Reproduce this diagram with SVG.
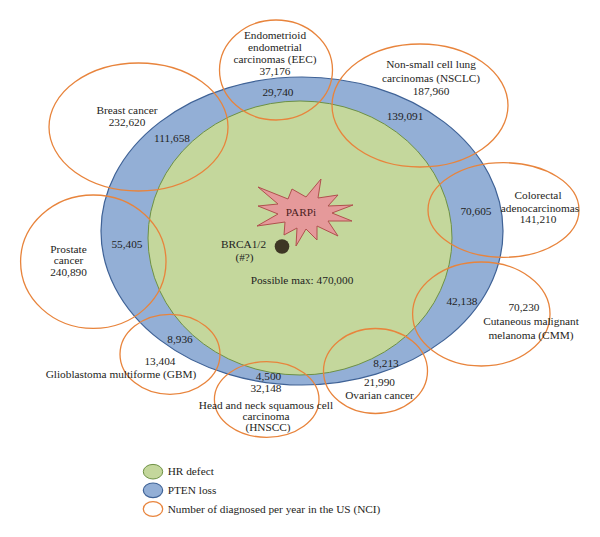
<svg xmlns="http://www.w3.org/2000/svg" width="600" height="537" viewBox="0 0 600 537">
<style>
text{font-family:"Liberation Serif","Times New Roman",serif;font-size:11.3px;fill:#1e1e22;text-anchor:middle}
.l{text-anchor:start}
.nci{fill:none;stroke:#E8843C;stroke-width:1.3}
.pten{fill:#93AFD6;stroke:#3F6296;stroke-width:1.2}
.hr{fill:#C4D79C;stroke:#6E9144;stroke-width:1}
</style>
<rect width="600" height="537" fill="#ffffff"/>
<g id="pten-loss"><ellipse class="pten" cx="302" cy="231" rx="201" ry="154"/></g>
<g id="hr-defect"><ellipse class="hr" cx="300" cy="238" rx="152" ry="137"/></g>
<g id="parpi">
<polygon fill="#E5999A" stroke="#B0504E" stroke-width="1" points="258,187 288,199 292,189 306,197 321,179 318,198 338,195 328,206 353,205 332,213 352,221 328,221 338,236 317,226 317,240 306,229 296,246 297,228 284,235 285,222 257,226 278,214 258,206 278,204"/>
<text x="301" y="215.5" style="fill:#4a1e1e">PARPi</text>
</g>
<g id="brca">
<circle cx="282" cy="246.5" r="7.3" fill="#3E3624"/>
<text x="243.5" y="247.5">BRCA1/2</text>
<text x="244.5" y="260.5">(#?)</text>
</g>
<g id="possible-max"><text x="302" y="284">Possible max: 470,000</text></g>
<g id="breast">
<ellipse class="nci" cx="138.5" cy="127" rx="89.5" ry="64"/>
<text x="127" y="114">Breast cancer</text>
<text x="127" y="125.5">232,620</text>
<text x="172" y="141.5">111,658</text>
</g>
<g id="eec">
<ellipse class="nci" cx="276" cy="70" rx="56.5" ry="50"/>
<text x="275" y="38.5">Endometrioid</text>
<text x="275" y="50.5">endometrial</text>
<text x="275" y="62.5">carcinomas (EEC)</text>
<text x="275" y="74.5">37,176</text>
<text x="278" y="95.5">29,740</text>
</g>
<g id="nsclc">
<ellipse class="nci" cx="420" cy="105.5" rx="88" ry="61.5"/>
<text x="431" y="68">Non-small cell lung</text>
<text x="431" y="82">carcinomas (NSCLC)</text>
<text x="431" y="95">187,960</text>
<text x="405" y="120">139,091</text>
</g>
<g id="colorectal">
<ellipse class="nci" cx="503.5" cy="210" rx="75.5" ry="47.3"/>
<text x="538" y="199">Colorectal</text>
<text x="540" y="211.5">adenocarcinomas</text>
<text x="538" y="223">141,210</text>
<text x="476" y="215">70,605</text>
</g>
<g id="cmm">
<ellipse class="nci" cx="481.3" cy="314" rx="68.7" ry="52"/>
<text x="524" y="310.5">70,230</text>
<text x="531" y="325">Cutaneous malignant</text>
<text x="531" y="339">melanoma (CMM)</text>
<text x="462" y="304.5">42,138</text>
</g>
<g id="ovarian">
<ellipse class="nci" cx="375.5" cy="371" rx="52" ry="42.5"/>
<text x="386" y="366.5">8,213</text>
<text x="379.5" y="385.5">21,990</text>
<text x="379.5" y="399">Ovarian cancer</text>
</g>
<g id="hnscc">
<ellipse class="nci" cx="266.7" cy="399.5" rx="52.3" ry="37.8"/>
<text x="268.5" y="380">4,500</text>
<text x="266" y="391.5">32,148</text>
<text x="266" y="408.5">Head and neck squamous cell</text>
<text x="266" y="419.5">carcinoma</text>
<text x="268" y="431">(HNSCC)</text>
</g>
<g id="gbm">
<ellipse class="nci" cx="170" cy="354.3" rx="50" ry="40"/>
<text x="180" y="343">8,936</text>
<text x="160" y="365">13,404</text>
<text x="121" y="378">Glioblastoma multiforme (GBM)</text>
</g>
<g id="prostate">
<ellipse class="nci" cx="93.3" cy="261.7" rx="72.7" ry="66.7"/>
<text x="68.5" y="252.5">Prostate</text>
<text x="68.5" y="264">cancer</text>
<text x="68.5" y="275.5">240,890</text>
<text x="127" y="247.5">55,405</text>
</g>
<g id="legend">
<ellipse class="hr" cx="153" cy="471.7" rx="9.7" ry="7.3"/>
<text class="l" x="167.7" y="475">HR defect</text>
<ellipse class="pten" cx="153" cy="490.3" rx="9.7" ry="7.3"/>
<text class="l" x="167.7" y="494">PTEN loss</text>
<ellipse class="nci" cx="153" cy="509" rx="9.7" ry="7.3"/>
<text class="l" x="167.7" y="512.5">Number of diagnosed per year in the US (NCI)</text>
</g>
</svg>
